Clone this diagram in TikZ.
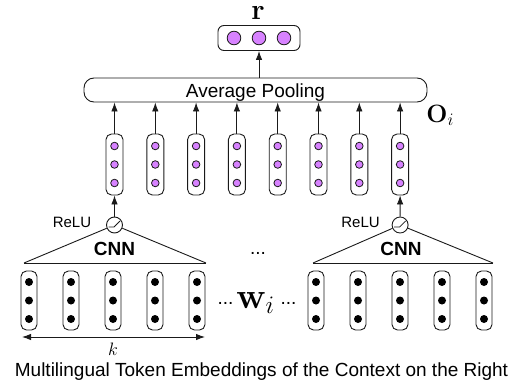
\RequirePackage{fix-cm}
\documentclass[tikz,border=0pt]{standalone}
\usepackage[no-math]{fontspec}
\setmainfont{Liberation Sans}
\usetikzlibrary{arrows.meta}
\definecolor{vio}{HTML}{D782FF}
\definecolor{ink}{HTML}{1A1A1A}
\begin{document}
\begin{tikzpicture}[x=1pt,y=-1pt, line width=0.9pt, draw=ink,
 arr/.style={-{Latex[length=9pt,width=6.5pt]}},
 darr/.style={{Latex[length=9pt,width=6.5pt]}-{Latex[length=9pt,width=6.5pt]}},
 vecbox/.style={draw, rounded corners=5.5pt, minimum width=17pt, minimum height=61pt, inner sep=0pt},
 embbox/.style={draw, rounded corners=5.5pt, minimum width=16pt, minimum height=59pt, inner sep=0pt},
 relu/.style={draw, circle, minimum size=16pt, inner sep=0pt},
 txt/.style={font=\fontsize{19}{22}\selectfont, inner sep=0pt},
 small/.style={font=\fontsize{15}{17}\selectfont, inner sep=0pt},
 vdot/.style={fill=vio, draw=ink, line width=0.8pt},
 bdot/.style={fill=black},
]
\useasboundingbox (0,0) rectangle (524,388);

% output vector r
\node[draw, rounded corners=6pt, minimum width=82pt, minimum height=25pt, inner sep=0pt] (rbox) at (259,38) {};
\foreach \x in {234,259,284} \filldraw[vdot] (\x,38) circle (6.8);
\node[anchor=base, inner sep=0pt, font=\fontsize{29}{31}\selectfont] (rlab) at (258,19) {$\mathbf{r}$};

% pooling
\node[draw, rounded corners=10pt, minimum width=343pt, minimum height=24pt, inner sep=0pt] (pool) at (255.5,90) {};
\node[txt, anchor=base] (pooltxt) at (255.5,97) {Average Pooling};
\draw[arr] (rbox.south |- pool.north) -- (rbox.south);

% O_i label
\node[anchor=base west, inner sep=0pt, font=\fontsize{25}{27}\selectfont] (olab) at (426,122) {$\mathbf{O}_i$};

% purple vectors
\foreach \i in {1,...,8} {
  \pgfmathsetmacro{\px}{114.5+(\i-1)*40.8}
  \node[vecbox] (p\i) at (\px,164.5) {};
  \foreach \y in {146,164.5,183} \filldraw[vdot] (\px,\y) circle (3.8);
  \draw[arr] (p\i.north) -- (p\i.north |- pool.south);
}

% ReLU units
\node[relu] (relu1) at (114.5,225) {};
\node[relu] (relu2) at (400.1,225) {};
\foreach \r in {relu1,relu2} \draw[line width=0.8pt, shift={(\r.center)}] (-6,2) -- (-0.5,2) -- (5.5,-4);
\draw[arr] (relu1.north) -- (p1.south);
\draw[arr] (relu2.north) -- (p8.south);
\node[small, anchor=base] (rl1) at (72,227) {ReLU};
\node[small, anchor=base] (rl2) at (360.5,227) {ReLU};

% CNN triangles
\coordinate (b1l) at (24,263);
\coordinate (b1r) at (206,263);
\coordinate (b2l) at (313,263);
\coordinate (b2r) at (493,263);
\draw (b1l) -- (relu1);
\draw (b1r) -- (relu1);
\draw (b1l) -- (b1r);
\draw (b2l) -- (relu2);
\draw (b2r) -- (relu2);
\draw (b2l) -- (b2r);
\node[txt, anchor=base, font=\fontsize{19}{22}\selectfont\bfseries] (cnn1) at (114.5,255) {CNN};
\node[txt, anchor=base, font=\fontsize{19}{22}\selectfont\bfseries] (cnn2) at (401,255) {CNN};
\node[txt, anchor=base] (mdots) at (258,254) {...};

% embeddings
\foreach \x [count=\j] in {29,71,113,155,197} {
  \node[embbox] (e\j) at (\x,300.5) {};
  \foreach \y in {282,300.5,319} \fill[bdot] (\x,\y) circle (4);
}
\foreach \x [count=\j] in {316,358,400,442,484} {
  \node[embbox] (f\j) at (\x,300.5) {};
  \foreach \y in {282,300.5,319} \fill[bdot] (\x,\y) circle (4);
}
\node[txt, anchor=base] (ldots) at (225.5,304) {...};
\node[anchor=base west, inner sep=0pt, font=\fontsize{36}{38}\selectfont] (wlab) at (236,308) {$\mathbf{w}_i$};
\node[txt, anchor=base] (rdots) at (288.5,304) {...};

% k arrow
\coordinate (kl) at (22,337);
\coordinate (kr) at (205,337);
\draw[darr] (kl) -- (kr);
\node[anchor=base, inner sep=0pt, font=\fontsize{18}{20}\selectfont] (klab) at (113,355) {$k$};

% caption
\node[txt, anchor=base] (cap) at (261.5,376) {Multilingual Token Embeddings of the Context on the Right};
\end{tikzpicture}
\end{document}
